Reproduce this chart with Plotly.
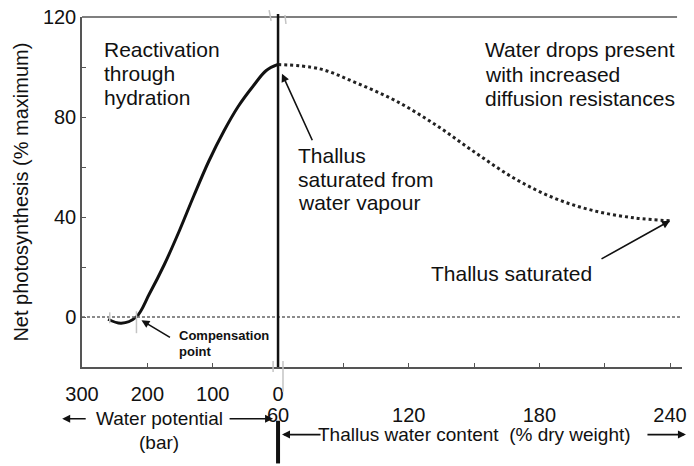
import plotly.graph_objects as go

# Net photosynthesis over the desiccated range (water potential, bar)
water_potential = [-260, -240, -217, -197, -174, -151, -129, -106, -83, -61, -38, -18, 0]
ps_by_potential = [-0.9, -2.5, 0, 9.2, 21.0, 34.5, 48.4, 62.3, 74.3, 84.2, 92.4, 98.6, 101]

# Net photosynthesis over the hydrated range (thallus water content, % dry weight)
water_content = [60, 79, 96, 114, 133, 151, 169, 187, 205, 224, 240]
ps_by_content = [101, 99.3, 93.6, 86.5, 76.5, 65.5, 55.2, 47.5, 42.5, 39.6, 38.5]

potential_ticks = [-300, -200, -100, 0]
potential_labels = ["300", "200", "100", "0"]
content_ticks = [60, 90, 120, 150, 180, 210, 240]
content_labels = ["60", "", "120", "", "180", "", "240"]
ps_ticks = [0, 20, 40, 60, 80, 100, 120]
ps_labels = ["0", "", "40", "", "80", "", "120"]

W, H = 694, 466
L, R, T, B = 82, 6, 15, 99
PW, PH = W - L - R, H - T - B
SPLIT = 198 / PW
FONT = "Liberation Sans, Arial, sans-serif"
INK = "#111111"
AXIS = "#555555"
FAINT = "#c4c4c4"


def px(x):
    return (x - L) / PW


def py(y):
    return (H - B - y) / PH


fig = go.Figure()
fig.add_trace(go.Scatter(
    x=water_potential, y=ps_by_potential, xaxis="x", yaxis="y",
    mode="lines", line=dict(color=INK, width=3, shape="spline"),
    showlegend=False, hoverinfo="skip"))
fig.add_trace(go.Scatter(
    x=water_content, y=ps_by_content, xaxis="x2", yaxis="y",
    mode="lines", line=dict(color="#222222", width=3, shape="spline", dash="dot"),
    showlegend=False, hoverinfo="skip"))

axis_common = dict(
    showline=True, linecolor=AXIS, linewidth=1.5, ticks="inside", ticklen=4,
    tickcolor=AXIS, showgrid=False, zeroline=False, fixedrange=True,
    tickfont=dict(family=FONT, size=20, color=INK))

fig.update_layout(
    width=W, height=H, margin=dict(l=L, r=R, t=T, b=B),
    paper_bgcolor="white", plot_bgcolor="white",
    xaxis=dict(domain=[0, SPLIT], range=[-300, 0], anchor="y",
               tickmode="array", tickvals=potential_ticks, ticktext=potential_labels,
               ticklabelstandoff=8, **axis_common),
    xaxis2=dict(domain=[SPLIT, 1], range=[60, 245.5], anchor="y",
                tickmode="array", tickvals=content_ticks, ticktext=content_labels,
                ticklabelstandoff=29, **axis_common),
    yaxis=dict(domain=[0, 1], range=[-20, 120], anchor="x",
               tickmode="array", tickvals=ps_ticks, ticktext=ps_labels,
               **axis_common),
)


def seg(x0, y0, x1, y1, color, width, dash=None):
    line = dict(color=color, width=width)
    if dash:
        line["dash"] = dash
    return dict(type="line", xref="paper", yref="paper",
                x0=px(x0), x1=px(x1), y0=py(y0), y1=py(y1), line=line)


shapes = [
    # top frame line
    seg(L, T, 683, T, AXIS, 1.5),
    # zero photosynthesis reference
    dict(type="line", xref="paper", yref="y", x0=0, x1=1, y0=0, y1=0,
         line=dict(color="#666666", width=1.5, dash="3px,2px")),
    # divider between the two scales
    seg(280, H - B, 280, 12, INK, 2.5),
    seg(280, 421, 280, 464, INK, 4),
    # faint registration marks around the divider and compensation point
    seg(271, 8, 273, 19, FAINT, 1.5),
    seg(287, 13, 288, 22, FAINT, 1.5),
    seg(275, 361, 275, 372, FAINT, 1.5),
    seg(285, 361, 285, 392, FAINT, 1.5),
    seg(110, 312, 110, 323, FAINT, 1.5),
    seg(137, 311, 137, 333, FAINT, 1.5),
]
fig.update_layout(shapes=shapes)

ann = []


def text(t, x, y, size=21, anchor="left", bold=False):
    ann.append(dict(text=f"<b>{t}</b>" if bold else t, xref="paper", yref="paper",
                    x=px(x), y=py(y), xanchor=anchor, yanchor="middle",
                    showarrow=False, font=dict(family=FONT, size=size, color=INK)))


for i, line in enumerate(["Reactivation", "through", "hydration"]):
    text(line, 102, 48 + 24 * i)
for i, line in enumerate(["Water drops present", "with increased", "diffusion resistances"]):
    text(line, 487, 48 + 24.5 * i)
for i, line in enumerate(["Thallus", "saturated from", "water vapour"]):
    text(line, 298, 154 + 24 * i)
text("Thallus saturated", 516, 273, anchor="center")
text("Compensation", 178, 335, size=13, bold=True)
text("point", 178, 351, size=13, bold=True)
text("Water potential", 160, 419, size=19, anchor="center")
text("(bar)", 160, 443, size=19, anchor="center")
text("Thallus water content  (% dry weight)", 478, 435, size=19, anchor="center")
ann.append(dict(text="Net photosynthesis (% maximum)", xref="paper", yref="paper",
                x=px(20), y=py(191), xanchor="center", yanchor="middle",
                textangle=-90, showarrow=False,
                font=dict(family=FONT, size=20, color=INK)))

arrow_style = dict(text="", showarrow=True, arrowhead=2, arrowsize=1,
                   arrowwidth=1.6, arrowcolor=INK, standoff=0, startstandoff=0)
# pointers into the plot
ann.append(dict(xref="x", yref="y", x=-209, y=-1.3, ax=30, ay=18, **arrow_style))
ann.append(dict(xref="x2", yref="y", x=61.8, y=97.3, ax=31, ay=68, **arrow_style))
ann.append(dict(xref="x2", yref="y", x=240, y=38.5, ax=-70, ay=39, **arrow_style))
# range arrows under the axes
ann.append(dict(xref="paper", yref="paper", x=px(62), y=py(419), ax=25, ay=0, **arrow_style))
ann.append(dict(xref="paper", yref="paper", x=px(275), y=py(419), ax=-45, ay=0, **arrow_style))
ann.append(dict(xref="paper", yref="paper", x=px(284), y=py(435), ax=40, ay=0, **arrow_style))
ann.append(dict(xref="paper", yref="paper", x=px(692), y=py(435), ax=-40, ay=0, **arrow_style))
fig.update_layout(annotations=ann)

fig.write_html("out.html")
